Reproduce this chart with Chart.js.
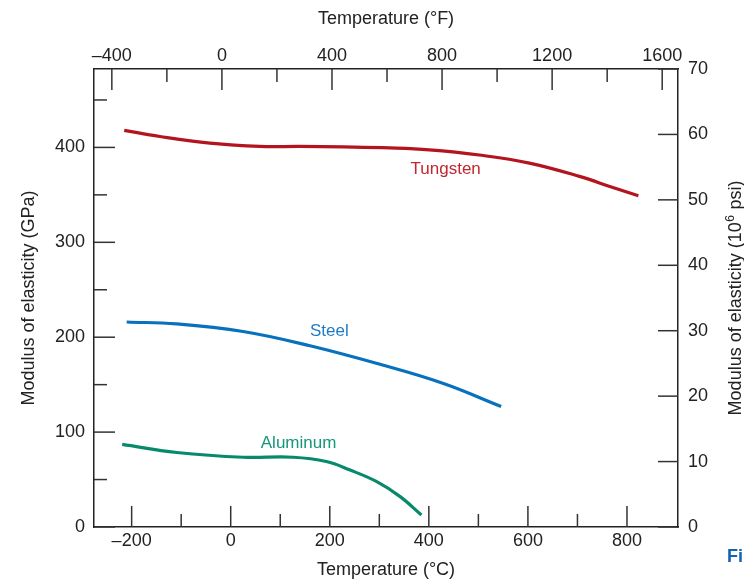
<!DOCTYPE html>
<html>
<head>
<meta charset="utf-8">
<style>
  html, body { margin: 0; padding: 0; background: #fff; }
  #wrap { width: 744px; height: 584px; }
</style>
<script src="https://cdn.jsdelivr.net/npm/chart.js@4.4.1/dist/chart.umd.min.js"></script>
</head>
<body>
<div id="wrap"><canvas id="myChart" width="744" height="584"></canvas></div>
<script>
// axis ticks
const celsiusTicks = [-200, 0, 200, 400, 600, 800];
const celsiusMinorTicks = [-100, 100, 300, 500, 700];
const fahrenheitTicks = [-400, 0, 400, 800, 1200, 1600];
const fahrenheitMinorTicks = [-200, 200, 600, 1000, 1400];
const gpaTicks = [0, 100, 200, 300, 400];
const gpaMinorTicks = [50, 150, 250, 350, 450];
const psiTicks = [0, 10, 20, 30, 40, 50, 60, 70];

// curves (temperature in °C, modulus in GPa)
const tungstenTemp = [-215, -143, -42, 59, 139, 227, 321, 401, 502, 603, 704, 770, 823];
const tungstenModulus = [418, 411.5, 404.5, 401, 401, 400.5, 399.5, 397.5, 392, 383.5, 369.5, 358, 349];

const steelTemp = [-210, -109, 25, 160, 294, 428, 546];
const steelModulus = [216, 214, 206, 191, 172.5, 151.5, 127];

const aluminumTemp = [-219, -109, 25, 126, 193, 241, 294, 342, 385];
const aluminumModulus = [87, 78.5, 73.5, 73.5, 69, 60, 48, 32, 12.7];

const tMin = -276, tMax = 903;
const toF = (c) => c * 9 / 5 + 32;
const psiToGpa = 6.894757;

const font = "'Liberation Sans', Arial, sans-serif";
const textColor = "#222";

function points(xs, ys) {
  return xs.map((x, i) => ({ x: x, y: ys[i] }));
}

function minus(v) {
  return v < 0 ? "\u2013" + Math.abs(v) : String(v);
}

const tickMarks = {
  id: "tickMarks",
  afterDraw(chart) {
    const { ctx, chartArea: a, scales } = chart;
    ctx.save();
    ctx.strokeStyle = "#333";
    ctx.lineWidth = 1.5;
    const mark = (x1, y1, x2, y2) => {
      ctx.beginPath();
      ctx.moveTo(x1, y1);
      ctx.lineTo(x2, y2);
      ctx.stroke();
    };
    celsiusTicks.forEach((v) => { const x = scales.x.getPixelForValue(v); mark(x, a.bottom, x, a.bottom - 21); });
    celsiusMinorTicks.forEach((v) => { const x = scales.x.getPixelForValue(v); mark(x, a.bottom, x, a.bottom - 13); });
    fahrenheitTicks.forEach((v) => { const x = scales.x2.getPixelForValue(v); mark(x, a.top, x, a.top + 21); });
    fahrenheitMinorTicks.forEach((v) => { const x = scales.x2.getPixelForValue(v); mark(x, a.top, x, a.top + 13); });
    gpaTicks.forEach((v) => { const y = scales.y.getPixelForValue(v); mark(a.left, y, a.left + 21, y); });
    gpaMinorTicks.forEach((v) => { const y = scales.y.getPixelForValue(v); mark(a.left, y, a.left + 13, y); });
    psiTicks.forEach((v) => { const y = scales.y2.getPixelForValue(v); mark(a.right, y, a.right - 20, y); });
    ctx.restore();
  }
};

const curveLabels = {
  id: "curveLabels",
  afterDraw(chart) {
    const { ctx, chartArea: a, scales } = chart;
    const labels = [
      { text: "Tungsten", color: "#c0272f", x: 434, y: 377 },
      { text: "Steel", color: "#1f7cc4", x: 199, y: 206.5 },
      { text: "Aluminum", color: "#16977a", x: 137, y: 88.2 }
    ];
    ctx.save();
    ctx.font = "17px " + font;
    ctx.textAlign = "center";
    ctx.textBaseline = "middle";
    labels.forEach((l) => {
      ctx.fillStyle = l.color;
      ctx.fillText(l.text, scales.x.getPixelForValue(l.x), scales.y.getPixelForValue(l.y));
    });

    // right axis title, read bottom to top, with superscript
    const main1 = "Modulus of elasticity (10";
    const sup = "6";
    const main2 = " psi)";
    ctx.fillStyle = textColor;
    ctx.font = "18px " + font;
    const w1 = ctx.measureText(main1).width;
    const w3 = ctx.measureText(main2).width;
    ctx.font = "12px " + font;
    const w2 = ctx.measureText(sup).width + 1;
    const total = w1 + w2 + w3;
    ctx.translate(735, (a.top + a.bottom) / 2);
    ctx.rotate(-Math.PI / 2);
    ctx.textAlign = "left";
    ctx.textBaseline = "alphabetic";
    let x = -total / 2;
    ctx.font = "18px " + font;
    ctx.fillText(main1, x, 6);
    x += w1;
    ctx.font = "12px " + font;
    ctx.fillText(sup, x + 0.5, -1);
    x += w2;
    ctx.font = "18px " + font;
    ctx.fillText(main2, x, 6);
    ctx.restore();

    // cut figure caption at the edge
    ctx.save();
    ctx.font = "bold 18px " + font;
    ctx.fillStyle = "#1464b4";
    ctx.textBaseline = "middle";
    ctx.fillText("Fi", 727, 557);
    ctx.restore();
  }
};

const tickFont = { family: font, size: 18 };
const titleFont = { family: font, size: 18 };
const border = { display: true, color: "#222", width: 1.5 };
const noGrid = { display: false, drawTicks: false };

const config = {
  type: "line",
  data: {
    datasets: [
      { label: "Tungsten", data: points(tungstenTemp, tungstenModulus), borderColor: "#b3141d", xAxisID: "x", yAxisID: "y" },
      { label: "Steel", data: points(steelTemp, steelModulus), borderColor: "#0871bd", xAxisID: "x", yAxisID: "y" },
      { label: "Aluminum", data: points(aluminumTemp, aluminumModulus), borderColor: "#078a6b", xAxisID: "x", yAxisID: "y" }
    ]
  },
  options: {
    responsive: false,
    animation: false,
    devicePixelRatio: 1,
    layout: { padding: 0 },
    elements: {
      line: { borderWidth: 3.2, tension: 0.4, fill: false },
      point: { radius: 0 }
    },
    plugins: {
      legend: { display: false },
      tooltip: { enabled: false }
    },
    scales: {
      x: {
        type: "linear", position: "bottom", min: tMin, max: tMax,
        grid: noGrid, border: border,
        afterBuildTicks: (s) => { s.ticks = celsiusTicks.map((v) => ({ value: v })); },
        afterFit: (s) => { s.height = 57; },
        ticks: { font: tickFont, color: textColor, padding: 3, autoSkip: false, maxRotation: 0, callback: (v) => minus(v) },
        title: { display: true, text: "Temperature (\u00b0C)", font: titleFont, color: textColor, padding: { top: 0, bottom: 3 } }
      },
      x2: {
        type: "linear", position: "top", min: toF(tMin), max: toF(tMax),
        grid: noGrid, border: border,
        afterBuildTicks: (s) => { s.ticks = fahrenheitTicks.map((v) => ({ value: v })); },
        afterFit: (s) => { s.height = 69; },
        ticks: { font: tickFont, color: textColor, padding: 2, autoSkip: false, maxRotation: 0, callback: (v) => minus(v) },
        title: { display: true, text: "Temperature (\u00b0F)", font: titleFont, color: textColor, padding: { top: 8, bottom: 0 } }
      },
      y: {
        type: "linear", position: "left", min: 0, max: 70 * psiToGpa,
        grid: noGrid, border: border,
        afterBuildTicks: (s) => { s.ticks = gpaTicks.map((v) => ({ value: v })); },
        afterFit: (s) => { s.width = 94; },
        ticks: { font: tickFont, color: textColor, padding: 9, autoSkip: false },
        title: { display: true, text: "Modulus of elasticity (GPa)", font: titleFont, color: textColor, padding: { top: 18, bottom: 0 } }
      },
      y2: {
        type: "linear", position: "right", min: 0, max: 70,
        grid: noGrid, border: border,
        afterBuildTicks: (s) => { s.ticks = psiTicks.map((v) => ({ value: v })); },
        afterFit: (s) => { s.width = 66; },
        ticks: { font: tickFont, color: textColor, padding: 10, autoSkip: false }
      }
    }
  },
  plugins: [tickMarks, curveLabels]
};

const chartDOM = document.getElementById("myChart").getContext("2d");
const miGrafica = new Chart(chartDOM, config);
</script>
</body>
</html>
